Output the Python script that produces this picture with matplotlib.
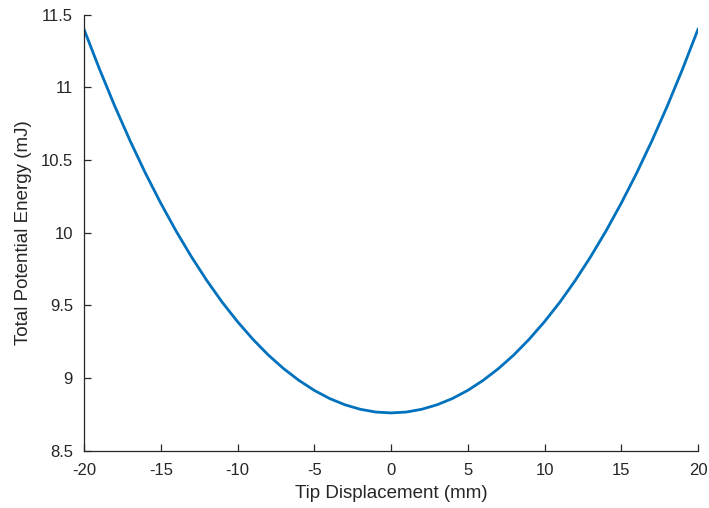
import matplotlib
matplotlib.use('Agg')
import matplotlib.pyplot as plt

plt.rcParams['font.family'] = 'Liberation Sans'
plt.rcParams['font.size'] = 12

# tip displacement (mm) and total potential energy (mJ)
displacement = [-20, -19, -18, -17, -16, -15, -14, -13, -12, -11, -10,
                -9, -8, -7, -6, -5, -4, -3, -2, -1, 0,
                1, 2, 3, 4, 5, 6, 7, 8, 9, 10,
                11, 12, 13, 14, 15, 16, 17, 18, 19, 20]
energy = [11.400, 11.128, 10.872, 10.633, 10.410, 10.203, 10.011, 9.834, 9.671, 9.522, 9.388,
          9.267, 9.159, 9.065, 8.984, 8.915, 8.859, 8.816, 8.785, 8.766, 8.760,
          8.766, 8.785, 8.816, 8.859, 8.915, 8.984, 9.065, 9.159, 9.267, 9.388,
          9.522, 9.671, 9.834, 10.011, 10.203, 10.410, 10.633, 10.872, 11.128, 11.400]

x_ticks = [-20, -15, -10, -5, 0, 5, 10, 15, 20]
y_ticks = [8.5, 9, 9.5, 10, 10.5, 11, 11.5]
y_tick_labels = ['8.5', '9', '9.5', '10', '10.5', '11', '11.5']

fig = plt.figure(figsize=(7.09, 5.08), dpi=100)
ax = fig.add_axes([0.1185, 0.1128, 0.866, 0.8582])

ax.plot(displacement, energy, color='#0072BD', linewidth=2)

ax.set_xlim(-20, 20)
ax.set_ylim(8.5, 11.5)
ax.set_xticks(x_ticks)
ax.set_xticklabels([str(t) for t in x_ticks])
ax.set_yticks(y_ticks)
ax.set_yticklabels(y_tick_labels)

for side in ['top', 'right']:
    ax.spines[side].set_visible(False)
for side in ['left', 'bottom']:
    ax.spines[side].set_color('#262626')
    ax.spines[side].set_linewidth(0.9)

ax.tick_params(axis='both', direction='in', length=5, width=0.9,
               color='#262626', labelcolor='#262626', labelsize=12)
ax.tick_params(axis='x', pad=9)
ax.tick_params(axis='y', pad=8)

ax.set_xlabel('Tip Displacement (mm)', fontsize=13.5, color='#262626', labelpad=5)
ax.set_ylabel('Total Potential Energy (mJ)', fontsize=13.5, color='#262626', labelpad=6)

fig.savefig('out.png', dpi=100)
